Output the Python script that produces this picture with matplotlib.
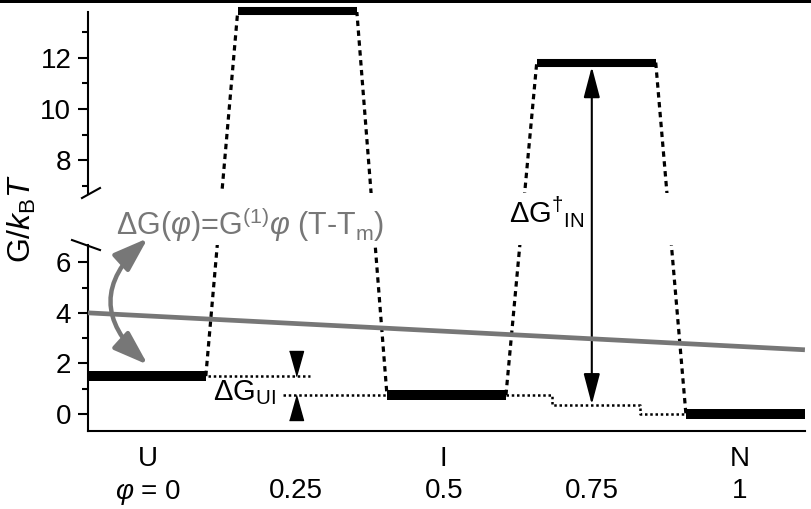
import numpy as np
import matplotlib.pyplot as plt
from matplotlib.lines import Line2D
from matplotlib.ticker import AutoMinorLocator

plt.rcParams['font.family'] = ['Liberation Sans', 'DejaVu Sans']
plt.rcParams['mathtext.fontset'] = 'custom'
plt.rcParams['mathtext.rm'] = 'Liberation Sans'
plt.rcParams['mathtext.it'] = 'Liberation Sans:italic'
plt.rcParams['mathtext.bf'] = 'Liberation Sans:bold'


### Data
# free energy levels (G/kBT) and their phi extent: U, TS1, I, TS2, N
level_left = [-0.101, 0.152, 0.404, 0.657, 0.909]
level_right = [0.098, 0.353, 0.605, 0.858, 1.11]
level_g = [1.5, 13.85, 0.75, 11.82, 0.0]

# dotted guide levels
guide_u_phi = [0.101, 0.274]
guide_u_g = [1.5, 1.5]
guide_i_phi = [0.228, 0.404]
guide_i_g = [0.75, 0.75]
guide_step_phi = [0.605, 0.682, 0.831, 0.909]
guide_step_g = [0.75, 0.375, 0.0, 0.0]

# phi dependent shift line
shift_phi = [-0.101, 1.11]
shift_g = [4.0, 2.54]

# annotation anchors
dg_ui_phi = 0.25
dg_ui_g = [1.5, 0.75]
dg_in_phi = 0.75
dg_in_g = [11.82, 0.375]
swing_phi = 0.0
swing_g = [6.95, 1.95]

state_names = ['U', 'I', 'N']
state_phi = [0, 0.5, 1]
phi_ticks = [0, 0.25, 0.5, 0.75, 1]
phi_labels = [r'$\varphi$ = 0', '0.25', '0.5', '0.75', '1']
low_ticks = [0, 2, 4, 6]
up_ticks = [8, 10, 12]

gray = '#777777'


### Axes (broken y axis)
fig = plt.figure(figsize=(8.11, 5.09), dpi=100)
ax_up = fig.add_axes([0.1085, 0.6208, 0.884, 0.3556])
ax_low = fig.add_axes([0.1085, 0.1532, 0.884, 0.3654])

for ax in (ax_up, ax_low):
    ax.set_xlim(-0.101, 1.11)
    ax.spines['top'].set_visible(False)
    ax.spines['right'].set_visible(False)
    ax.spines['left'].set_linewidth(1.5)
    ax.spines['bottom'].set_linewidth(1.5)
    ax.yaxis.set_minor_locator(AutoMinorLocator(2))
    ax.tick_params(axis='y', which='major', length=7, width=1.5, labelsize=20, pad=5)
    ax.tick_params(axis='y', which='minor', length=4, width=1.5)
    ax.patch.set_visible(False)

ax_up.spines['bottom'].set_visible(False)
ax_up.set_xticks([])
ax_up.set_ylim(6.71, 13.8)
ax_up.set_yticks(up_ticks)
ax_low.set_ylim(-0.67, 6.68)
ax_low.set_yticks(low_ticks)
ax_low.set_xticks(phi_ticks, phi_labels)
ax_low.tick_params(axis='x', length=0, labelsize=20, pad=34)


### Levels
def level_ax(g):
    return ax_up if g > 7 else ax_low


def to_ax(ax, src_ax, pt):
    # same display point, expressed in another axes' data coordinates
    return ax.transData.inverted().transform(src_ax.transData.transform(pt))


for x0, x1, g in zip(level_left, level_right, level_g):
    ax = level_ax(g)
    ax.plot([x0, x1], [g, g], color='k', lw=7.2 if ax is ax_low else 5.8,
            solid_capstyle='butt', clip_on=False, zorder=5)

# dashed barrier lines: straight on screen, cut by the axis break
for i in range(len(level_g) - 1):
    a = (level_right[i], level_g[i])
    b = (level_left[i + 1], level_g[i + 1])
    for ax in (ax_up, ax_low):
        pa = to_ax(ax, level_ax(level_g[i]), a)
        pb = to_ax(ax, level_ax(level_g[i + 1]), b)
        ax.plot([pa[0], pb[0]], [pa[1], pb[1]], color='k', lw=2.3,
                ls=(0, (1.7, 1.4)))

# dotted guides
dot = (0, (1, 1.1))
ax_low.plot(guide_u_phi, guide_u_g, color='k', lw=1.8, ls=dot)
ax_low.plot(guide_i_phi, guide_i_g, color='k', lw=1.8, ls=dot)
ax_low.plot(guide_step_phi, guide_step_g, color='k', lw=1.8, ls=dot,
            drawstyle='steps-post')

# shift line
ax_low.plot(shift_phi, shift_g, color=gray, lw=3.4, clip_on=False,
            solid_capstyle='butt', zorder=4)


### Annotations
tri_down = [(-0.28, 1), (0.28, 1), (0, 0)]
tri_up = [(-0.28, -1), (0.28, -1), (0, 0)]
ax_low.plot([dg_ui_phi], [dg_ui_g[0]], marker=tri_down, ms=36, color='k', ls='none')
ax_low.plot([dg_ui_phi], [dg_ui_g[1]], marker=tri_up, ms=36, color='k', ls='none',
            clip_on=False)
ax_low.text(0.111, 0.55, r'ΔG$_{\mathrm{UI}}$', fontsize=21, va='baseline', ha='left')

ax_low.annotate('', xy=(dg_in_phi, dg_in_g[0]), xycoords=ax_up.transData,
                xytext=(dg_in_phi, dg_in_g[1]), textcoords=ax_low.transData,
                arrowprops=dict(arrowstyle='<|-|>,head_length=0.95,head_width=0.25',
                                mutation_scale=20, lw=1.5, color='k',
                                shrinkA=0, shrinkB=3),
                annotation_clip=False)
fig.text(509 / 811, (509 - 223) / 509, r'ΔG$^{\dagger}{}_{\mathrm{IN}}$', fontsize=21,
         ha='left', va='baseline')

ax_low.annotate('', xy=(swing_phi, swing_g[1]), xytext=(swing_phi, swing_g[0]),
                arrowprops=dict(arrowstyle='<|-|>,head_length=1.05,head_width=0.36',
                                mutation_scale=20, lw=3.2, color=gray,
                                connectionstyle='arc3,rad=0.55',
                                shrinkA=0, shrinkB=0),
                annotation_clip=False)
fig.text(116 / 811, (509 - 235) / 509,
         r'ΔG($\varphi$)=G$^{(1)}$$\varphi$ (T-T$_{\mathrm{m}}$)',
         fontsize=22, color=gray, ha='left', va='baseline')

for name, x in zip(state_names, state_phi):
    ax_low.text(x, -0.15, name, transform=ax_low.get_xaxis_transform(),
                ha='center', va='center', fontsize=20)

fig.text(0.027, 0.57, r'G/$k_{\mathrm{B}}T$', rotation=90, fontsize=23,
         ha='center', va='center')

### Axis break marks and top border
x0 = 0.1085
low_top = 0.1532 + 0.3654
up_bot = 0.6208
fig.add_artist(Line2D([x0 - 16 / 811, x0 + 12 / 811], [low_top + 5 / 509, low_top - 5 / 509],
                      color='k', lw=1.5, transform=fig.transFigure))
fig.add_artist(Line2D([x0 - 6 / 811, x0 + 12 / 811], [up_bot - 5 / 509, up_bot + 5 / 509],
                      color='k', lw=1.5, transform=fig.transFigure))
fig.add_artist(Line2D([0, 1], [1, 1], color='k', lw=3.6, transform=fig.transFigure))

plt.savefig('out.png', dpi=100)
plt.close(fig)
